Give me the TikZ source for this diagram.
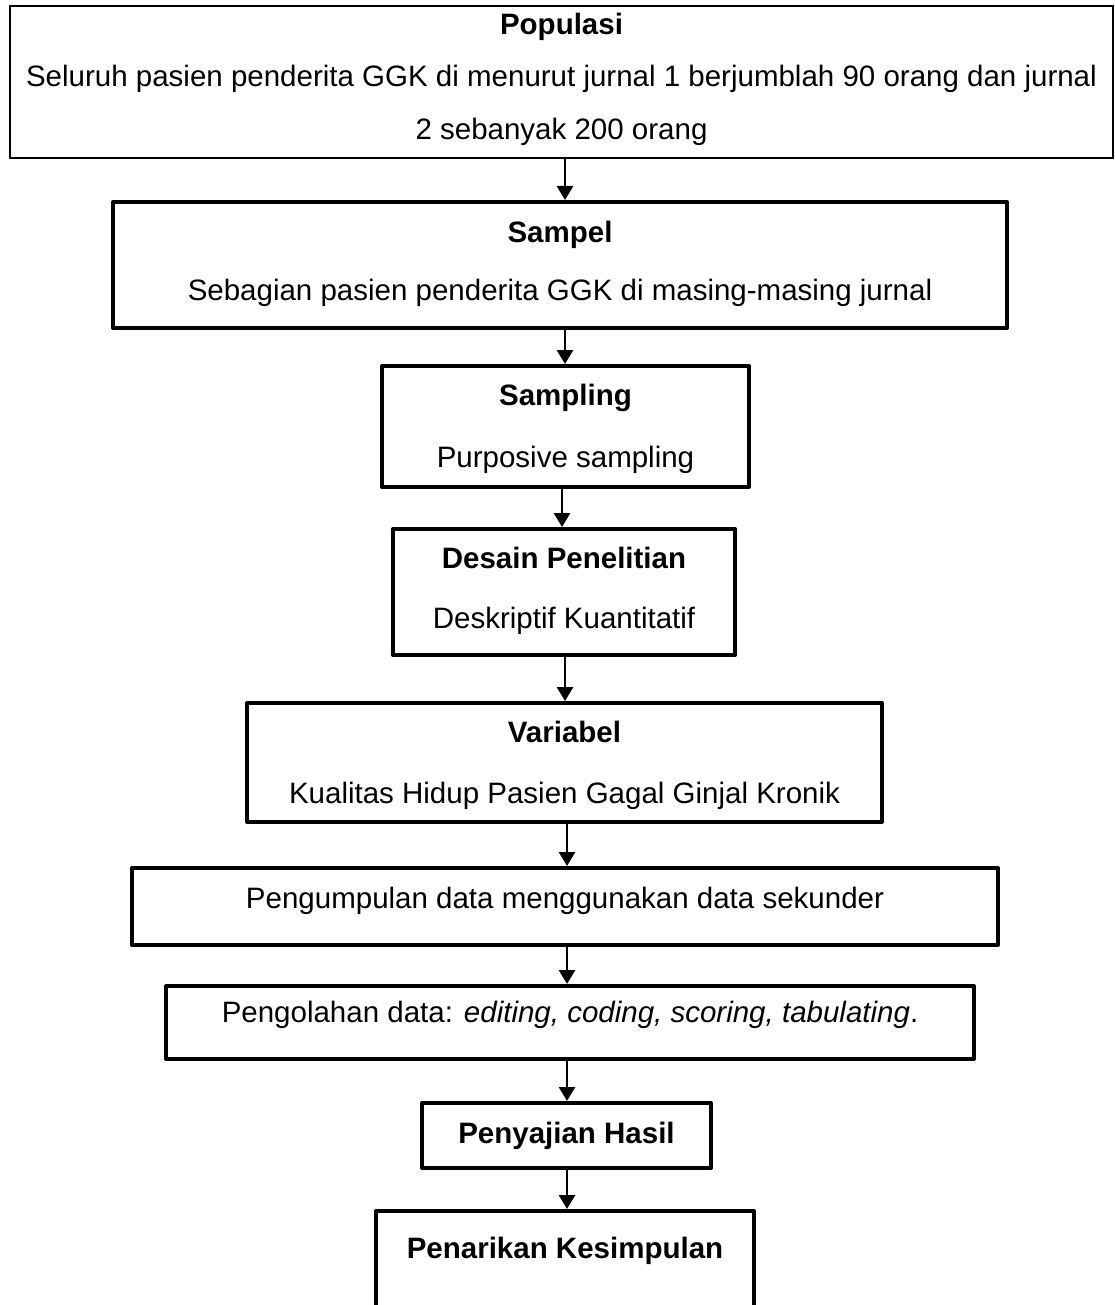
\documentclass[tikz,border=0pt]{standalone}
\usepackage{fontspec}
\setmainfont{Liberation Sans}
\usetikzlibrary{arrows.meta}
\begin{document}
\begin{tikzpicture}[x=1pt,y=-1pt,
  thinbox/.style={draw=black,line width=1.7pt,inner sep=0pt},
  thickbox/.style={draw=black,line width=4pt,line join=round,inner sep=0pt},
  lbl/.style={anchor=base,inner sep=0pt,font=\fontsize{29.5}{35}\selectfont},
  blbl/.style={lbl,font=\fontsize{29.5}{35}\selectfont\bfseries},
  arr/.style={line width=2.8pt,-{Triangle[width=16pt,length=14pt]}}]
\useasboundingbox (0,0) rectangle (1114,1305);
\clip (0,0) rectangle (1114,1305);
\fill[white] (0,0) rectangle (1114,1305);
% boxes
\node[thinbox,minimum width=1103pt,minimum height=152pt] (pop) at (561.5,82) {};
\node[thickbox,minimum width=894pt,minimum height=126pt] (sampel) at (560,265) {};
\node[thickbox,minimum width=367pt,minimum height=121pt] (sampling) at (565.5,426.5) {};
\node[thickbox,minimum width=342pt,minimum height=126pt] (desain) at (564,592) {};
\node[thickbox,minimum width=635pt,minimum height=119pt] (variabel) at (564.5,762.5) {};
\node[thickbox,minimum width=866pt,minimum height=77pt] (kumpul) at (565,906.5) {};
\node[thickbox,minimum width=808pt,minimum height=73pt] (olah) at (570,1022.5) {};
\node[thickbox,minimum width=289pt,minimum height=65pt] (saji) at (566.5,1135.5) {};
\node[thickbox,minimum width=378pt,minimum height=119pt] (tarik) at (565,1270.5) {};
% texts
\node[blbl] (popT) at (561.5,35) {Populasi};
\node[lbl] (popA) at (561.5,87) {Seluruh pasien penderita GGK di menurut jurnal 1 berjumblah 90 orang dan jurnal};
\node[lbl] (popB) at (561.5,140) {2 sebanyak 200 orang};
\node[blbl] (sampelT) at (560,243) {Sampel};
\node[lbl] (sampelA) at (560,301) {Sebagian pasien penderita GGK di masing-masing jurnal};
\node[blbl] (samplingT) at (565.5,405) {Sampling};
\node[lbl] (samplingA) at (565.5,467) {Purposive sampling};
\node[blbl] (desainT) at (564,568) {Desain Penelitian};
\node[lbl] (desainA) at (564,628) {Deskriptif Kuantitatif};
\node[blbl] (variabelT) at (564.5,742) {Variabel};
\node[lbl] (variabelA) at (564.5,803) {Kualitas Hidup Pasien Gagal Ginjal Kronik};
\node[lbl] (kumpulT) at (565,908) {Pengumpulan data menggunakan data sekunder};
\node[lbl] (olahT) at (570,1022) {Pengolahan data: \textit{editing, coding, scoring, tabulating}.};
\node[blbl] (sajiT) at (566.5,1143) {Penyajian Hasil};
\node[blbl] (tarikT) at (565,1258) {Penarikan Kesimpulan};
% arrow x positions
\coordinate (ax) at (565,0);
\coordinate (bx) at (562,0);
\coordinate (cx) at (567,0);
\draw[arr] (pop.south -| ax) -- (sampel.north -| ax);
\draw[arr] (sampel.south -| ax) -- (sampling.north -| ax);
\draw[arr] (sampling.south -| bx) -- (desain.north -| bx);
\draw[arr] (desain.south -| ax) -- (variabel.north -| ax);
\draw[arr] (variabel.south -| cx) -- (kumpul.north -| cx);
\draw[arr] (kumpul.south -| cx) -- (olah.north -| cx);
\draw[arr] (olah.south -| cx) -- (saji.north -| cx);
\draw[arr] (saji.south -| cx) -- (tarik.north -| cx);
\end{tikzpicture}
\end{document}
